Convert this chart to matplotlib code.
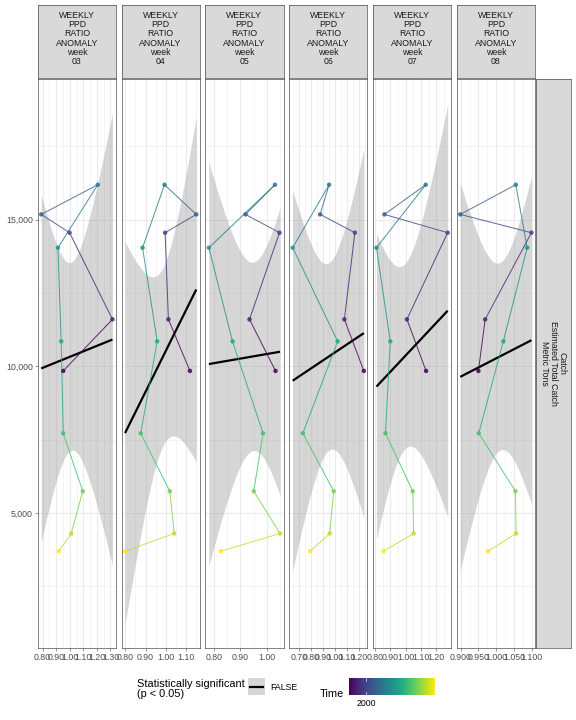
import numpy as np
import matplotlib
matplotlib.use("Agg")
import matplotlib.pyplot as plt
from matplotlib.collections import LineCollection
from matplotlib.cm import ScalarMappable
from matplotlib.colors import Normalize

plt.rcParams['font.family'] = ['Liberation Sans', 'DejaVu Sans']

# data -----------------------------------------------------------------
years = np.arange(1998, 2009)
catch = np.array([9842, 11601, 14557, 15181, 16193, 14045, 10851, 7715, 5738, 4296, 3692])

weeks = ["03", "04", "05", "06", "07", "08"]
anom_03 = [0.952, 1.315, 0.999, 0.790, 1.207, 0.913, 0.937, 0.952, 1.096, 1.011, 0.920]
anom_04 = [1.118, 1.012, 0.996, 1.149, 0.993, 0.885, 0.957, 0.876, 1.019, 1.041, 0.799]
anom_05 = [1.032, 0.934, 1.047, 0.919, 1.030, 0.781, 0.870, 0.985, 0.950, 1.049, 0.826]
anom_06 = [1.244, 1.081, 1.169, 0.878, 0.953, 0.648, 1.025, 0.733, 0.992, 0.958, 0.795]
anom_07 = [1.134, 1.009, 1.275, 0.862, 1.132, 0.810, 0.900, 0.869, 1.047, 1.053, 0.856]
anom_08 = [0.950, 0.969, 1.099, 0.899, 1.055, 1.087, 1.020, 0.951, 1.054, 1.056, 0.977]
anomalies = [anom_03, anom_04, anom_05, anom_06, anom_07, anom_08]

xticks = [
    [0.80, 0.90, 1.00, 1.10, 1.20, 1.30],
    [0.80, 0.90, 1.00, 1.10],
    [0.80, 0.90, 1.00],
    [0.70, 0.80, 0.90, 1.00, 1.10, 1.20],
    [0.80, 0.90, 1.00, 1.10, 1.20],
    [0.900, 0.950, 1.000, 1.050, 1.100],
]
xfmt = ["%.2f", "%.2f", "%.2f", "%.2f", "%.2f", "%.3f"]
yticks = [5000, 10000, 15000]
ylim = (390, 19800)

# figure --------------------------------------------------------------
W, H = 576, 720
fig = plt.figure(figsize=(W / 72, H / 72), dpi=72)
fig.patch.set_facecolor("white")

def px(x0, y0, w, h):
    # pixel box (top-left origin) -> figure fraction
    return [x0 / W, 1 - (y0 + h) / H, w / W, h / H]

cmap = plt.get_cmap("viridis")
norm = Normalize(years.min(), years.max())
grid_c = "#EBEBEB"
border_c = "#333333"
text_c = "#4D4D4D"

left0, pw, gap = 37.7, 78.3, 5.5
ptop, ph = 79, 569
stop, sh = 5, 73
tval = 2.262  # t quantile, df = 9

for i, wk in enumerate(weeks):
    x = np.array(anomalies[i])
    y = catch
    xl = left0 + i * (pw + gap)
    ax = fig.add_axes(px(xl, ptop, pw, ph))

    rng = x.max() - x.min()
    ax.set_xlim(x.min() - 0.05 * rng, x.max() + 0.05 * rng)
    ax.set_ylim(*ylim)

    # grid
    tk = xticks[i]
    step = tk[1] - tk[0]
    minors = np.arange(tk[0] - step / 2, tk[-1] + step, step)
    for m in minors:
        ax.axvline(m, color=grid_c, lw=0.55, zorder=0)
    for t in tk:
        ax.axvline(t, color=grid_c, lw=1.1, zorder=0)
    for m in [2500, 7500, 12500, 17500]:
        ax.axhline(m, color=grid_c, lw=0.55, zorder=0)
    for t in yticks:
        ax.axhline(t, color=grid_c, lw=1.1, zorder=0)

    # linear fit with 95% band
    b, a = np.polyfit(x, y, 1)
    resid = y - (a + b * x)
    s = np.sqrt(np.sum(resid ** 2) / (len(x) - 2))
    xs = np.linspace(x.min(), x.max(), 80)
    yh = a + b * xs
    se = s * np.sqrt(1 / len(x) + (xs - x.mean()) ** 2 / np.sum((x - x.mean()) ** 2))
    ax.fill_between(xs, yh - tval * se, yh + tval * se, color="#999999", alpha=0.4,
                    lw=0, zorder=1)
    ax.plot(xs, yh, color="black", lw=2.2, zorder=2, solid_capstyle="butt")

    # path coloured by time
    pts = np.column_stack([x, y])
    segs = np.stack([pts[:-1], pts[1:]], axis=1)
    lc = LineCollection(segs, colors=cmap(norm(years[:-1])), linewidths=1.0,
                        alpha=0.8, zorder=3)
    ax.add_collection(lc)
    ax.scatter(x, y, c=years, cmap=cmap, norm=norm, s=20, lw=0, alpha=0.85, zorder=4)

    ax.set_xticks(tk)
    ax.set_xticklabels([xfmt[i] % t for t in tk])
    ax.set_yticks(yticks)
    if i == 0:
        ax.set_yticklabels(["5,000", "10,000", "15,000"])
    else:
        ax.tick_params(axis="y", left=False, labelleft=False)
    ax.tick_params(colors=border_c, labelcolor=text_c, labelsize=8.8, length=2.75,
                   width=0.5, pad=2)
    for sp in ax.spines.values():
        sp.set_color(border_c)
        sp.set_linewidth(0.6)

    # strip
    sax = fig.add_axes(px(xl, stop, pw, sh))
    sax.set_facecolor("#D9D9D9")
    sax.set_xticks([])
    sax.set_yticks([])
    for sp in sax.spines.values():
        sp.set_color(border_c)
        sp.set_linewidth(0.6)
    sax.text(0.5, 0.54, "WEEKLY\nPPD\nRATIO\nANOMALY\nweek\n" + wk, ha="center",
             va="center", fontsize=8.8, color="#1A1A1A", linespacing=1.05,
             transform=sax.transAxes)

# right strip
rax = fig.add_axes(px(535.5, ptop, 35.5, ph))
rax.set_facecolor("#D9D9D9")
rax.set_xticks([])
rax.set_yticks([])
for sp in rax.spines.values():
    sp.set_color(border_c)
    sp.set_linewidth(0.6)
rax.text(0.5, 0.5, "Catch\nEstimated Total Catch\nMetric Tons", rotation=-90,
         ha="center", va="center", fontsize=8.8, color="#1A1A1A", linespacing=0.95,
         transform=rax.transAxes)

# legend: significance
fig.text(137 / W, 1 - 689 / H, "Statistically significant\n(p < 0.05)", fontsize=11,
         ha="left", va="center", color="black", linespacing=1.05)
kax = fig.add_axes(px(248, 678, 17, 17))
kax.set_facecolor("#D6D6D6")
kax.set_xlim(0, 1)
kax.set_ylim(0, 1)
kax.plot([0.1, 0.9], [0.5, 0.5], color="black", lw=2.2)
kax.set_xticks([])
kax.set_yticks([])
for sp in kax.spines.values():
    sp.set_visible(False)
fig.text(270 / W, 1 - 687 / H, "FALSE", fontsize=8.8, ha="left", va="center",
         color="black")

# legend: time colourbar
fig.text(320 / W, 1 - 694 / H, "Time", fontsize=11, ha="left", va="center",
         color="black")
cax = fig.add_axes(px(349, 678, 86, 17))
cb = fig.colorbar(ScalarMappable(norm=norm, cmap=cmap), cax=cax,
                  orientation="horizontal")
cb.set_ticks([2000])
cb.set_ticklabels(["2000"])
cb.outline.set_visible(False)
cax.tick_params(labelsize=8.8, length=0, pad=4, labelcolor="black")
cax.axvline(2000, ymin=0, ymax=0.2, color="white", lw=0.6)
cax.axvline(2000, ymin=0.8, ymax=1, color="white", lw=0.6)

fig.savefig("out.png", dpi=72, facecolor="white")
